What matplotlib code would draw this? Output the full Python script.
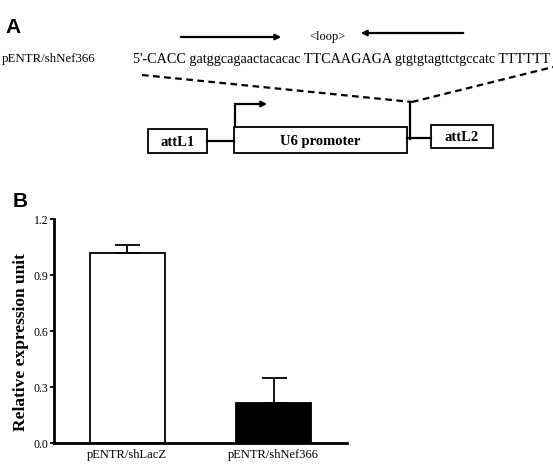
import matplotlib.pyplot as plt

# bar chart data (panel B)
labels = ["pENTR/shLacZ", "pENTR/shNef366"]
values = [1.02, 0.215]
errors = [0.04, 0.135]
colors = ["white", "black"]
yticks = [0.0, 0.3, 0.6, 0.9, 1.2]
yticklabels = ["0.0", "0.3", "0.6", "0.9", "1.2"]

# panel A text
construct = "pENTR/shNef366"
sequence = "5'-CACC gatggcagaactacacac TTCAAGAGA gtgtgtagttctgccatc TTTTTT"

W, H = 553, 467
fig = plt.figure(figsize=(W / 100, H / 100), dpi=100)
serif = "Liberation Serif"

# ---- panel A: schematic drawn in pixel coordinates
ov = fig.add_axes([0, 0, 1, 1])
ov.set_xlim(0, W)
ov.set_ylim(H, 0)
ov.axis("off")

ov.text(5, 33, "A", fontsize=15, fontweight="bold", family="Liberation Sans")
ov.annotate("", xy=(284, 37), xytext=(178, 37),
            arrowprops=dict(arrowstyle="-|>", lw=1.6, color="black", mutation_scale=8))
ov.text(327, 37, "<loop>", family=serif, fontsize=9, ha="center", va="center")
ov.annotate("", xy=(358, 33), xytext=(466, 33),
            arrowprops=dict(arrowstyle="-|>", lw=1.6, color="black", mutation_scale=8))

ov.text(2, 62, construct, family=serif, fontsize=9.3)
ov.text(133, 63, sequence, family=serif, fontsize=10.2)

ov.plot([142, 412], [75, 102], ls=(0, (3, 2)), lw=1.6, color="black")
ov.plot([412, 553], [102, 67], ls=(0, (3, 2)), lw=1.6, color="black")
ov.plot([410, 410], [104, 139], lw=1.6, color="black")

# promoter arrow
ov.plot([235, 235], [127, 104], lw=1.6, color="black")
ov.annotate("", xy=(270, 104), xytext=(234, 104),
            arrowprops=dict(arrowstyle="-|>", lw=1.6, color="black", mutation_scale=8))

# boxes
boxes = [(148, 129, 59, 24, "attL1"), (234, 127, 173, 26, "U6 promoter"),
         (431, 125, 62, 23, "attL2")]
for x, y, w, h, name in boxes:
    ov.add_patch(plt.Rectangle((x, y), w, h, fill=False, lw=1.3, ec="black"))
    ov.text(x + w / 2, y + h / 2 + 1, name, family=serif, fontsize=10.5,
            fontweight="bold", ha="center", va="center")
ov.plot([207, 234], [141, 141], lw=1.6, color="black")
ov.plot([407, 431], [138, 138], lw=1.6, color="black")

ov.text(13, 207, "B", fontsize=15, fontweight="bold", family="Liberation Sans")

# ---- panel B: bar chart
ax = fig.add_axes([54 / W, 1 - 443 / H, (347 - 54) / W, (443 - 219) / H])
x = range(len(labels))
ax.bar(x, values, width=0.51, color=colors, edgecolor="black", linewidth=1.3,
       yerr=[[0, 0], errors], capsize=9, error_kw=dict(lw=1.3, capthick=1.3))
ax.set_xlim(-0.5, 1.5)
ax.set_ylim(0, 1.2)
ax.set_yticks(yticks)
ax.set_yticklabels(yticklabels, family=serif, fontsize=8.5)
ax.set_xticks(list(x))
ax.set_xticklabels(labels, family=serif, fontsize=9)
ax.tick_params(axis="x", length=0, pad=4)
ax.tick_params(axis="y", length=3, width=1.3, pad=1)
for s in ["top", "right"]:
    ax.spines[s].set_visible(False)
for s in ["left", "bottom"]:
    ax.spines[s].set_linewidth(2)
ax.set_ylabel("Relative expression unit", family=serif, fontsize=12.5,
              fontweight="bold")
ax.yaxis.set_label_coords(-0.085, 0.45)

fig.savefig("out.png", dpi=100)
